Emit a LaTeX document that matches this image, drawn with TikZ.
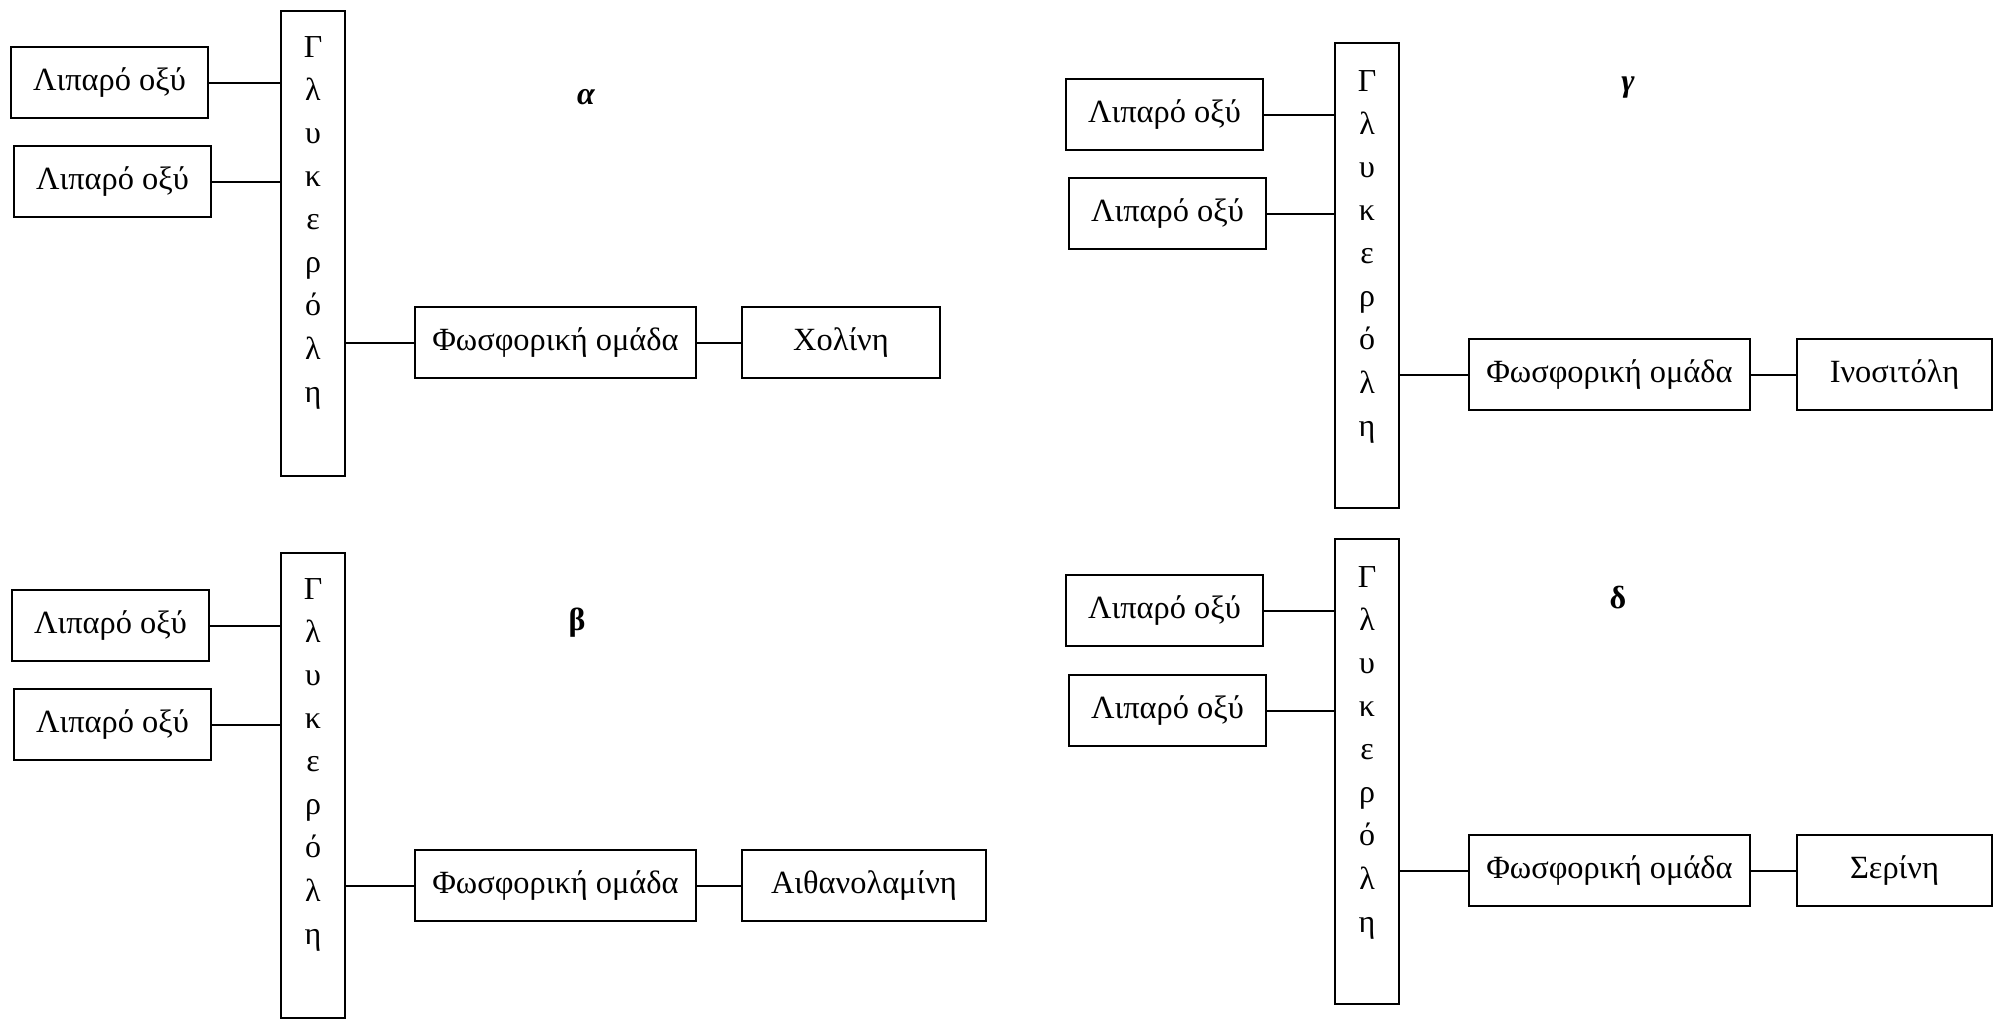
\documentclass[tikz,border=0pt]{standalone}
\usepackage{fontspec}
\setmainfont{Liberation Serif}
\usetikzlibrary{positioning}
\tikzset{
    unitbox/.style={draw, line width=1pt, minimum height=35.5pt, inner sep=0pt,
        anchor=north west, font=\fontsize{16.2}{18}\selectfont},
    acidbox/.style={unitbox, minimum width=98.5pt},
    phosbox/.style={unitbox, minimum width=140.5pt},
    glycbox/.style={draw, line width=1pt, minimum width=32pt, minimum height=232.5pt,
        inner sep=0pt, anchor=north west},
    glyctext/.style={align=center, inner sep=0pt, font=\fontsize{16}{21.55}\selectfont},
    panellabel/.style={font=\fontsize{16}{18}\selectfont\bfseries},
    bond/.style={line width=1pt}
}
\begin{document}
\begin{tikzpicture}[x=0.5pt, y=-0.5pt]
    \useasboundingbox (0,0) rectangle (1993,1018);
    %% Panel alpha
    \begin{scope}[shift={(280,10)}]
        \node[glycbox] (glyA) at (0,0) {};
        \node[glyctext, below=13pt of glyA.north] (glyAtxt) {Γ\\λ\\υ\\κ\\ε\\ρ\\ό\\λ\\η};
        \node[acidbox] (faA1) at (-270,36) {Λιπαρό οξύ};
        \node[acidbox] (faA2) at (-267,135) {Λιπαρό οξύ};
        \node[phosbox] (phA) at (134,296) {Φωσφορική ομάδα};
        \node[unitbox, minimum width=99pt] (endA) at (461,296) {Χολίνη};
        \node[panellabel] (labA) at (306,87) {\itshape α};
        \draw[bond] (faA1.east) -- (faA1.east -| glyA.west);
        \draw[bond] (faA2.east) -- (faA2.east -| glyA.west);
        \draw[bond] (phA.west -| glyA.east) -- (phA.west);
        \draw[bond] (phA.east) -- (endA.west);
    \end{scope}
    %% Panel beta
    \begin{scope}[shift={(280,552)}]
        \node[glycbox] (glyB) at (0,0) {};
        \node[glyctext, below=13pt of glyB.north] (glyBtxt) {Γ\\λ\\υ\\κ\\ε\\ρ\\ό\\λ\\η};
        \node[acidbox] (faB1) at (-269,37) {Λιπαρό οξύ};
        \node[acidbox] (faB2) at (-267,136) {Λιπαρό οξύ};
        \node[phosbox] (phB) at (134,297) {Φωσφορική ομάδα};
        \node[unitbox, minimum width=122pt] (endB) at (461,297) {Αιθανολαμίνη};
        \node[panellabel] (labB) at (297,71) {β};
        \draw[bond] (faB1.east) -- (faB1.east -| glyB.west);
        \draw[bond] (faB2.east) -- (faB2.east -| glyB.west);
        \draw[bond] (phB.west -| glyB.east) -- (phB.west);
        \draw[bond] (phB.east) -- (endB.west);
    \end{scope}
    %% Panel gamma
    \begin{scope}[shift={(1334,42)}]
        \node[glycbox] (glyC) at (0,0) {};
        \node[glyctext, below=14pt of glyC.north] (glyCtxt) {Γ\\λ\\υ\\κ\\ε\\ρ\\ό\\λ\\η};
        \node[acidbox] (faC1) at (-269,36) {Λιπαρό οξύ};
        \node[acidbox] (faC2) at (-266,135) {Λιπαρό οξύ};
        \node[phosbox] (phC) at (134,296) {Φωσφορική ομάδα};
        \node[unitbox, minimum width=97.5pt] (endC) at (462,296) {Ινοσιτόλη};
        \node[panellabel] (labC) at (294,46) {\itshape γ};
        \draw[bond] (faC1.east) -- (faC1.east -| glyC.west);
        \draw[bond] (faC2.east) -- (faC2.east -| glyC.west);
        \draw[bond] (phC.west -| glyC.east) -- (phC.west);
        \draw[bond] (phC.east) -- (endC.west);
    \end{scope}
    %% Panel delta
    \begin{scope}[shift={(1334,538)}]
        \node[glycbox] (glyD) at (0,0) {};
        \node[glyctext, below=14pt of glyD.north] (glyDtxt) {Γ\\λ\\υ\\κ\\ε\\ρ\\ό\\λ\\η};
        \node[acidbox] (faD1) at (-269,36) {Λιπαρό οξύ};
        \node[acidbox] (faD2) at (-266,136) {Λιπαρό οξύ};
        \node[phosbox] (phD) at (134,296) {Φωσφορική ομάδα};
        \node[unitbox, minimum width=97.5pt] (endD) at (462,296) {Σερίνη};
        \node[panellabel] (labD) at (284,60) {δ};
        \draw[bond] (faD1.east) -- (faD1.east -| glyD.west);
        \draw[bond] (faD2.east) -- (faD2.east -| glyD.west);
        \draw[bond] (phD.west -| glyD.east) -- (phD.west);
        \draw[bond] (phD.east) -- (endD.west);
    \end{scope}
\end{tikzpicture}
\end{document}
